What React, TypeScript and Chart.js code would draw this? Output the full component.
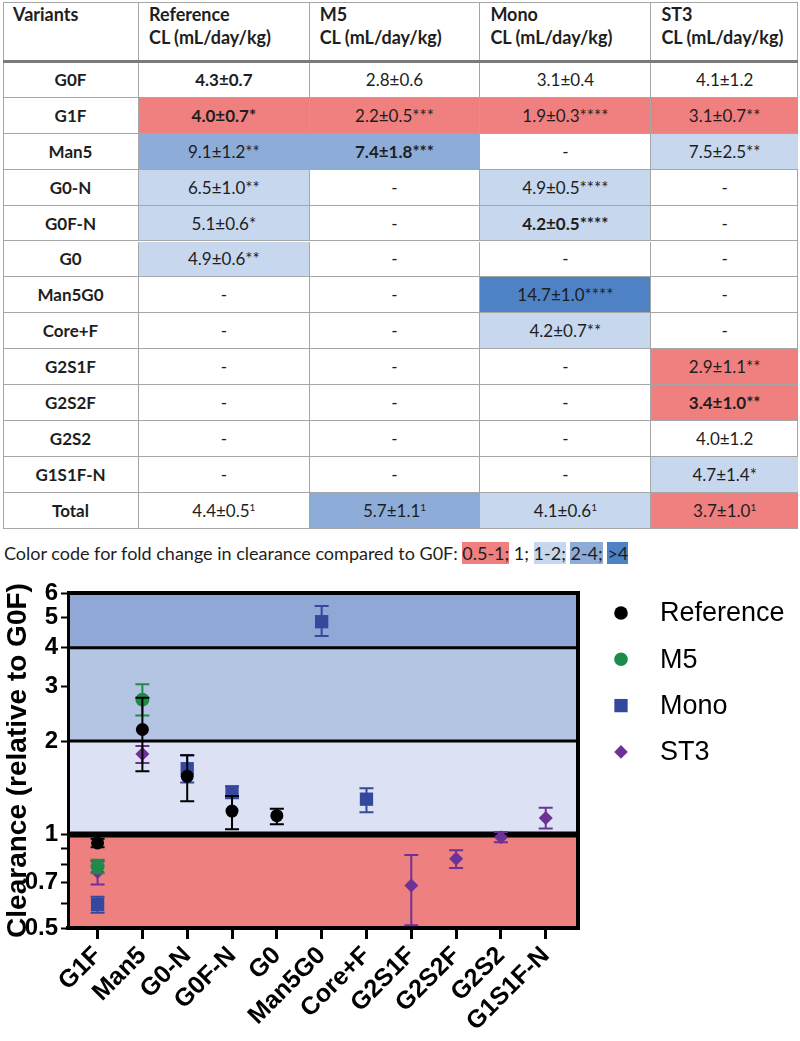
import React, { useEffect, useRef } from 'react';
import { Chart, registerables } from 'chart.js';

Chart.register(...registerables);

// ---------- Table data ----------
const tableVariants = ['G0F', 'G1F', 'Man5', 'G0-N', 'G0F-N', 'G0', 'Man5G0', 'Core+F', 'G2S1F', 'G2S2F', 'G2S2', 'G1S1F-N', 'Total'];
const tableColumns = ['Reference', 'M5', 'Mono', 'ST3'];
const referenceCL = ['4.3±0.7', '4.0±0.7*', '9.1±1.2**', '6.5±1.0**', '5.1±0.6*', '4.9±0.6**', '-', '-', '-', '-', '-', '-', '4.4±0.5¹'];
const m5CL = ['2.8±0.6', '2.2±0.5***', '7.4±1.8***', '-', '-', '-', '-', '-', '-', '-', '-', '-', '5.7±1.1¹'];
const monoCL = ['3.1±0.4', '1.9±0.3****', '-', '4.9±0.5****', '4.2±0.5****', '-', '14.7±1.0****', '4.2±0.7**', '-', '-', '-', '-', '4.1±0.6¹'];
const st3CL = ['4.1±1.2', '3.1±0.7**', '7.5±2.5**', '-', '-', '-', '-', '-', '2.9±1.1**', '3.4±1.0**', '4.0±1.2', '4.7±1.4*', '3.7±1.0¹'];
const boldCells = [[0, 0], [1, 0], [2, 1], [4, 2], [9, 3]];
const colorCodeParts = ['0.5-1;', '1;', '1-2;', '2-4;', '>4'];

// ---------- Chart data (clearance relative to G0F) ----------
const categories = ['G1F', 'Man5', 'G0-N', 'G0F-N', 'G0', 'Man5G0', 'Core+F', 'G2S1F', 'G2S2F', 'G2S2', 'G1S1F-N'];
const referenceRel = [0.94, 2.18, 1.54, 1.19, 1.15, null, null, null, null, null, null];
const referenceLow = [0.91, 1.6, 1.28, 1.04, 1.08, null, null, null, null, null, null];
const referenceHigh = [0.97, 2.76, 1.8, 1.33, 1.21, null, null, null, null, null, null];
const m5Rel = [0.79, 2.72, null, null, null, null, null, null, null, null, null];
const m5Low = [0.75, 2.42, null, null, null, null, null, null, null, null, null];
const m5High = [0.83, 3.05, null, null, null, null, null, null, null, null, null];
const monoRel = [0.595, null, 1.63, 1.37, null, 4.85, 1.3, null, null, null, null];
const monoLow = [0.56, null, 1.47, 1.31, null, 4.36, 1.18, null, null, null, null];
const monoHigh = [0.63, null, 1.8, 1.43, null, 5.45, 1.41, null, null, null, null];
const st3Rel = [0.757, 1.816, null, null, null, null, null, 0.685, 0.835, 0.98, 1.13];
const st3Low = [0.69, 1.7, null, null, null, null, null, 0.51, 0.78, 0.945, 1.045];
const st3High = [0.82, 1.93, null, null, null, null, null, 0.86, 0.89, 1.02, 1.22];

const yTickValues = [0.5, 0.6, 0.7, 0.8, 0.9, 1, 2, 3, 4, 5, 6];
const yTickLabels = [0.5, 0.7, 1, 2, 3, 4, 5, 6];
const bandLimits = [0.5, 1, 2, 4, 6];
const bandLines = [1, 2, 4];

// ---------- Styles ----------
const FOLD = { red: '#f08080', white: 'transparent', light: '#c6d7ee', medium: '#8eacd8', dark: '#4f82c4' };
const BAND_COLORS = ['#ef8080', '#dce2f3', '#b4c5e4', '#8fa8d6'];
const BAND_LINE_WIDTHS = [6, 3, 3];
const SERIES_STYLE = [
  { color: '#000000', style: 'circle', r: 6.5 },
  { color: '#1f8b4a', style: 'circle', r: 7 },
  { color: '#34489e', style: 'rect', r: 9.4 },
  { color: '#6e3296', style: 'rectRot', r: 7 },
];
const CHART_FONT = "'Liberation Sans', Arial, sans-serif";
const TABLE_FONT = "Lato, 'Open Sans', sans-serif";

function foldColor(ratio: number): string {
  if (ratio < 0.95) return FOLD.red;
  if (ratio < 1.05) return FOLD.white;
  if (ratio < 2) return FOLD.light;
  if (ratio < 4) return FOLD.medium;
  return FOLD.dark;
}

function drawMarker(ctx: CanvasRenderingContext2D, style: string, x: number, y: number, r: number, color: string) {
  ctx.save();
  ctx.fillStyle = color;
  ctx.beginPath();
  if (style === 'rect') {
    const s = r * Math.SQRT1_2;
    ctx.rect(x - s, y - s, 2 * s, 2 * s);
  } else if (style === 'rectRot') {
    ctx.moveTo(x - r, y);
    ctx.lineTo(x, y - r);
    ctx.lineTo(x + r, y);
    ctx.lineTo(x, y + r);
    ctx.closePath();
  } else {
    ctx.arc(x, y, r, 0, Math.PI * 2);
  }
  ctx.fill();
  ctx.restore();
}

const bandsPlugin = {
  id: 'bands',
  beforeDraw(chart: any) {
    const { ctx, chartArea, scales } = chart;
    const { left, right, top, bottom } = chartArea;
    const y = scales.y;
    ctx.save();
    for (let i = 0; i < bandLimits.length - 1; i++) {
      const y1 = y.getPixelForValue(bandLimits[i + 1]);
      const y2 = y.getPixelForValue(bandLimits[i]);
      ctx.fillStyle = BAND_COLORS[i];
      ctx.fillRect(left, y1, right - left, y2 - y1);
    }
    ctx.strokeStyle = '#000';
    bandLines.forEach((v, i) => {
      const py = y.getPixelForValue(v);
      ctx.lineWidth = BAND_LINE_WIDTHS[i];
      ctx.beginPath();
      ctx.moveTo(left, py);
      ctx.lineTo(right, py);
      ctx.stroke();
    });
    ctx.lineWidth = 4;
    ctx.beginPath();
    ctx.moveTo(left - 1, top);
    ctx.lineTo(right, top);
    ctx.lineTo(right, bottom + 2);
    ctx.stroke();
    ctx.restore();
  },
};

const errorBarPlugin = {
  id: 'errorBars',
  afterDatasetDraw(chart: any, args: any) {
    const ds = chart.data.datasets[args.index];
    const { ctx, scales } = chart;
    ctx.save();
    ctx.strokeStyle = ds.backgroundColor;
    ctx.lineWidth = 2;
    const cap = 7;
    ds.data.forEach((p: any) => {
      if (p.low == null || p.high == null) return;
      const px = scales.x.getPixelForValue(p.x);
      const pl = scales.y.getPixelForValue(p.low);
      const ph = scales.y.getPixelForValue(p.high);
      ctx.beginPath();
      ctx.moveTo(px, pl);
      ctx.lineTo(px, ph);
      ctx.moveTo(px - cap, pl);
      ctx.lineTo(px + cap, pl);
      ctx.moveTo(px - cap, ph);
      ctx.lineTo(px + cap, ph);
      ctx.stroke();
    });
    ctx.restore();
  },
};

const legendPlugin = {
  id: 'customLegend',
  afterDraw(chart: any) {
    const { ctx } = chart;
    ctx.save();
    chart.data.datasets.forEach((ds: any, i: number) => {
      const st = SERIES_STYLE[i];
      const cy = 48 + i * 46.3;
      drawMarker(ctx, st.style, 621, cy, st.style === 'rect' ? 9.4 : 6.8, st.color);
      ctx.fillStyle = '#000';
      ctx.font = `27px ${CHART_FONT}`;
      ctx.textBaseline = 'middle';
      ctx.textAlign = 'left';
      ctx.fillText(ds.label, 660, cy + 1);
    });
    ctx.restore();
  },
};

function buildSeries(rel: (number | null)[], low: (number | null)[], high: (number | null)[]) {
  const pts: any[] = [];
  rel.forEach((v, i) => {
    if (v != null) pts.push({ x: i, y: v, low: low[i], high: high[i] });
  });
  return pts;
}

const seriesData = [
  { label: 'Reference', points: buildSeries(referenceRel, referenceLow, referenceHigh) },
  { label: 'M5', points: buildSeries(m5Rel, m5Low, m5High) },
  { label: 'Mono', points: buildSeries(monoRel, monoLow, monoHigh) },
  { label: 'ST3', points: buildSeries(st3Rel, st3Low, st3High) },
];

// ---------- Table layout ----------
const TABLE_LEFT = 3;
const TABLE_TOP = 2;
const HEADER_H = 60;
const ROW_H = 35.9;
const COL_W = [136, 170.7, 170.7, 171, 146.6];
const GRID = '#a6a6a6';

function CellText({ text, bold }: { text: string; bold: boolean }) {
  const parts = text.split('¹');
  return (
    <span style={{ fontWeight: bold ? 700 : 400 }}>
      {parts[0]}
      {parts.length > 1 ? <sup style={{ fontSize: 10, verticalAlign: 'top', lineHeight: '14px' }}>1</sup> : null}
    </span>
  );
}

function Table() {
  const columnsData = [referenceCL, m5CL, monoCL, st3CL];
  const colLeft: number[] = [];
  let acc = TABLE_LEFT;
  COL_W.forEach((w) => {
    colLeft.push(acc);
    acc += w;
  });
  const totalW = acc - TABLE_LEFT;
  const cells: any[] = [];
  const headerStyle = (j: number): any => ({
    position: 'absolute', left: colLeft[j], top: TABLE_TOP, width: COL_W[j], height: HEADER_H, boxSizing: 'border-box',
    borderRight: j < 4 ? `1px solid ${GRID}` : 'none', padding: '1px 0 0 10px', fontWeight: 700, lineHeight: '23px', fontSize: 18,
  });
  cells.push(
    <div key="h0" style={headerStyle(0)}>
      Variants
    </div>
  );
  tableColumns.forEach((c, j) => {
    cells.push(
      <div key={'h' + (j + 1)} style={headerStyle(j + 1)}>
        <div>{c}</div>
        <div>CL (mL/day/kg)</div>
      </div>
    );
  });
  const bodyTop = TABLE_TOP + HEADER_H;
  tableVariants.forEach((v, r) => {
    const top = bodyTop + r * ROW_H;
    cells.push(
      <div key={'r' + r} style={{ position: 'absolute', left: colLeft[0], top, width: COL_W[0], height: ROW_H, boxSizing: 'border-box', borderRight: `1px solid ${GRID}`, borderBottom: `1px solid ${GRID}`, display: 'flex', alignItems: 'center', justifyContent: 'center', fontWeight: 700 }}>
        {v}
      </div>
    );
    columnsData.forEach((col, j) => {
      const txt = col[r];
      const base = parseFloat(col[0]);
      const val = parseFloat(txt);
      const bg = isNaN(val) ? 'transparent' : foldColor(val / base);
      const bold = boldCells.some(([rr, cc]) => rr === r && cc === j);
      cells.push(
        <div key={`c${r}_${j}`} style={{ position: 'absolute', left: colLeft[j + 1], top, width: COL_W[j + 1], height: ROW_H, boxSizing: 'border-box', background: bg, borderRight: j < 3 ? `1px solid ${GRID}` : 'none', borderBottom: `1px solid ${GRID}`, display: 'flex', alignItems: 'center', justifyContent: 'center' }}>
          <CellText text={txt} bold={bold} />
        </div>
      );
    });
  });
  return (
    <div style={{ position: 'absolute', left: 0, top: 0, width: 800, height: 540, fontFamily: TABLE_FONT, fontSize: 17, color: '#1e1e1e' }}>
      <div style={{ position: 'absolute', left: TABLE_LEFT, top: TABLE_TOP, width: totalW, height: bodyTop + 13 * ROW_H - TABLE_TOP, boxSizing: 'border-box', borderLeft: `1px solid ${GRID}`, borderTop: `1px solid ${GRID}`, borderRight: `1px solid ${GRID}` }} />
      {cells}
      <div style={{ position: 'absolute', left: TABLE_LEFT, top: bodyTop - 2, width: totalW, height: 3, background: '#7a7a7a' }} />
    </div>
  );
}

function ColorCode() {
  const bgs = [FOLD.red, 'transparent', FOLD.light, FOLD.medium, FOLD.dark];
  return (
    <div style={{ position: 'absolute', left: 4, top: 541, fontFamily: TABLE_FONT, fontSize: 18, color: '#1e1e1e', lineHeight: '24px', whiteSpace: 'nowrap' }}>
      Color code for fold change in clearance compared to G0F:{' '}
      {colorCodeParts.map((p, i) => (
        <React.Fragment key={i}>
          <span style={{ background: bgs[i] }}>{p}</span>
          {i < colorCodeParts.length - 1 ? ' ' : ''}
        </React.Fragment>
      ))}
    </div>
  );
}

export default function App() {
  const canvasRef = useRef<HTMLCanvasElement>(null);
  useEffect(() => {
    const chart = new Chart(canvasRef.current as HTMLCanvasElement, {
      type: 'scatter',
      data: {
        datasets: seriesData.map((s, i) => ({
          label: s.label,
          data: s.points,
          backgroundColor: SERIES_STYLE[i].color,
          borderColor: SERIES_STYLE[i].color,
          borderWidth: 0,
          pointStyle: SERIES_STYLE[i].style,
          pointRadius: SERIES_STYLE[i].r,
          pointHoverRadius: SERIES_STYLE[i].r,
          showLine: false,
        })) as any,
      },
      options: {
        responsive: false,
        animation: false,
        events: [],
        layout: { padding: { top: 28, right: 222, left: 0, bottom: 0 } },
        plugins: { legend: { display: false }, tooltip: { enabled: false } },
        scales: {
          x: {
            type: 'linear',
            min: -0.66,
            max: 10.72,
            afterBuildTicks: (s: any) => {
              s.ticks = categories.map((_, i) => ({ value: i }));
            },
            afterFit: (s: any) => {
              s.height = 113;
            },
            ticks: {
              autoSkip: false,
              minRotation: 45,
              maxRotation: 45,
              color: '#000',
              padding: 2,
              font: { family: CHART_FONT, weight: 'bold', size: 25 },
              callback: (v: any) => categories[Math.round(Number(v))] ?? '',
            },
            grid: { drawOnChartArea: false, drawTicks: true, tickLength: 11, tickWidth: 3, tickColor: '#000' },
            border: { display: true, color: '#000', width: 4 },
          },
          y: {
            type: 'logarithmic',
            min: 0.5,
            max: 6,
            afterBuildTicks: (s: any) => {
              s.ticks = yTickValues.map((v) => ({ value: v }));
            },
            afterFit: (s: any) => {
              s.width = 68;
            },
            ticks: {
              autoSkip: false,
              color: '#000',
              padding: 3,
              font: { family: CHART_FONT, weight: 'bold', size: 24 },
              callback: (v: any) => (yTickLabels.some((t) => Math.abs(t - Number(v)) < 1e-6) ? String(v) : ''),
            },
            grid: { drawOnChartArea: false, drawTicks: true, tickLength: 7, tickWidth: 2, tickColor: '#000' },
            border: { display: true, color: '#000', width: 3 },
            title: {
              display: true,
              text: 'Clearance (relative to G0F)',
              color: '#000',
              font: { family: CHART_FONT, weight: 'bold', size: 28 },
              padding: { top: 1, bottom: 0 },
            },
          },
        },
      } as any,
      plugins: [bandsPlugin, errorBarPlugin, legendPlugin],
    });
    return () => chart.destroy();
  }, []);

  return (
    <div style={{ position: 'absolute', left: 0, top: 0, width: 800, height: 1041, background: '#fff', overflow: 'hidden' }}>
      <Table />
      <ColorCode />
      <canvas ref={canvasRef} width={800} height={476} style={{ position: 'absolute', left: 0, top: 565, width: 800, height: 476 }} />
    </div>
  );
}
